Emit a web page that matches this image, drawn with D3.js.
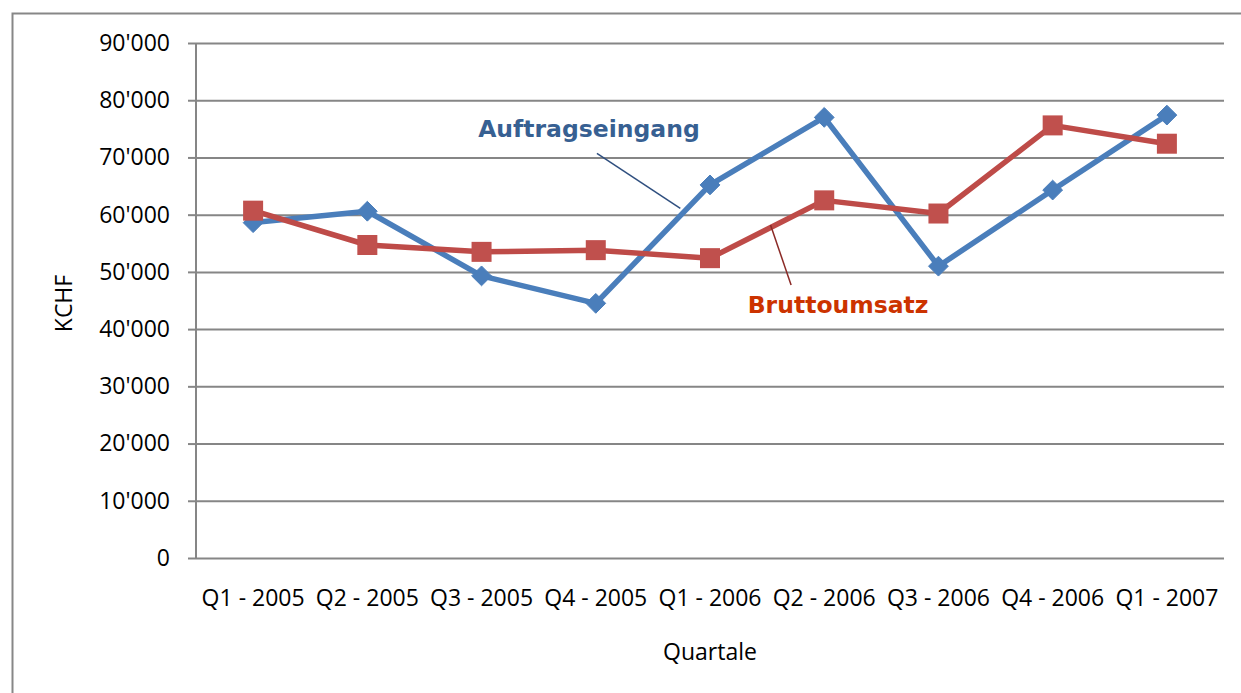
<!DOCTYPE html>
<html>
<head>
<meta charset="utf-8">
<script src="https://cdn.jsdelivr.net/npm/d3@7"></script>
<style>
  body { margin: 0; background: #fff; }
  svg { display: block; }
  .tick text { font-family: "Open Sans", sans-serif; font-size: 23px; fill: #000; }
</style>
</head>
<body>
<div id="chart"></div>
<script>
/* Quarterly figures in KCHF. */
const quarters = ["Q1 - 2005", "Q2 - 2005", "Q3 - 2005", "Q4 - 2005", "Q1 - 2006",
                  "Q2 - 2006", "Q3 - 2006", "Q4 - 2006", "Q1 - 2007"];
const auftragseingang = [58600, 60600, 49300, 44500, 65200, 77000, 51000, 64300, 77400];
const bruttoumsatz = [60700, 54700, 53500, 53800, 52400, 62500, 60200, 75600, 72400];
const yTicks = [0, 10000, 20000, 30000, 40000, 50000, 60000, 70000, 80000, 90000];

/* Data labels with leader lines, in (category index, value) units. */
const labelAuftrag = { text: "Auftragseingang", at: [1.97, 73500], from: [3.01, 70700], to: [3.74, 61100] };
const labelBrutto = { text: "Bruttoumsatz", at: [4.33, 42800], from: [4.53, 58200], to: [4.71, 47700] };

const width = 1241, height = 693;
const margin = { top: 43, right: 17, bottom: 135, left: 196 };

const svg = d3.select("#chart").append("svg")
    .attr("width", width)
    .attr("height", height);

/* Chart-area border, running off the bottom and right of the picture. */
svg.append("rect")
    .attr("x", 12.5).attr("y", 13.5)
    .attr("width", 1250).attr("height", 700)
    .attr("fill", "none")
    .attr("stroke", "#878787")
    .attr("stroke-width", 2);

const xband = d3.scaleBand()
    .domain(quarters)
    .range([margin.left, width - margin.right]);
/* Linear version of the category axis so that annotations can sit between categories. */
const xi = d3.scaleLinear()
    .domain([0, quarters.length - 1])
    .range([xband(quarters[0]) + xband.bandwidth() / 2,
            xband(quarters[quarters.length - 1]) + xband.bandwidth() / 2]);
const y = d3.scaleLinear()
    .domain([0, 90000])
    .range([height - margin.bottom, margin.top]);

const fmt = v => v === 0 ? "0" : d3.format(",")(v).replace(/,/g, "'");

/* Horizontal gridlines plus the small ticks left of the axis. */
const yaxis = d3.axisLeft(y)
    .tickValues(yTicks)
    .tickFormat(fmt)
    .tickSize(8)
    .tickPadding(18);
const gy = svg.append("g")
    .attr("transform", "translate(" + margin.left + ",0)")
    .call(yaxis);
gy.select(".domain").remove();
gy.selectAll(".tick line").attr("stroke", "#868686").attr("stroke-width", 2);
gy.selectAll(".tick").append("line")
    .attr("x1", 0)
    .attr("x2", width - margin.right - margin.left)
    .attr("stroke", "#868686")
    .attr("stroke-width", 2);

/* Vertical axis line. */
svg.append("line")
    .attr("x1", margin.left).attr("x2", margin.left)
    .attr("y1", y(90000)).attr("y2", y(0))
    .attr("stroke", "#868686")
    .attr("stroke-width", 2);

const xaxis = d3.axisBottom(xband).tickSize(0).tickPadding(32);
const gx = svg.append("g")
    .attr("transform", "translate(0," + y(0) + ")")
    .call(xaxis);
gx.select(".domain").remove();

/* Axis titles. */
svg.append("text")
    .attr("transform", "translate(72," + ((y(0) + y(90000)) / 2 + 3) + ") rotate(-90)")
    .attr("text-anchor", "middle")
    .style("font-family", "'Open Sans', sans-serif")
    .style("font-size", "23px")
    .text("KCHF");
svg.append("text")
    .attr("x", (margin.left + width - margin.right) / 2)
    .attr("y", 660)
    .attr("text-anchor", "middle")
    .style("font-family", "'Open Sans', sans-serif")
    .style("font-size", "23px")
    .text("Quartale");

/* Series. */
const line = d3.line()
    .x((d, i) => xi(i))
    .y(d => y(d));

svg.append("path")
    .attr("d", line(auftragseingang))
    .attr("fill", "none")
    .attr("stroke", "#4A7EBB")
    .attr("stroke-width", 5.5)
    .attr("stroke-linejoin", "round");

svg.append("path")
    .attr("d", line(bruttoumsatz))
    .attr("fill", "none")
    .attr("stroke", "#BE4B48")
    .attr("stroke-width", 5.5)
    .attr("stroke-linejoin", "round");

const diamond = d3.symbol().type(d3.symbolDiamond2).size(250);
svg.selectAll("path.diamond")
    .data(auftragseingang)
    .enter()
    .append("path")
        .attr("class", "diamond")
        .attr("d", diamond)
        .attr("transform", (d, i) => "translate(" + xi(i) + "," + y(d) + ")")
        .attr("fill", "#4A7EBB")
        .attr("stroke", "#4A7EBB")
        .attr("stroke-width", 1);

svg.selectAll("rect.square")
    .data(bruttoumsatz)
    .enter()
    .append("rect")
        .attr("class", "square")
        .attr("x", (d, i) => xi(i) - 10)
        .attr("y", d => y(d) - 10)
        .attr("width", 20)
        .attr("height", 20)
        .attr("fill", "#C0504D");

/* Data labels with leader lines. */
function drawLabel(lab, textColor, lineColor) {
    svg.append("line")
        .attr("x1", xi(lab.from[0])).attr("y1", y(lab.from[1]))
        .attr("x2", xi(lab.to[0])).attr("y2", y(lab.to[1]))
        .attr("stroke", lineColor)
        .attr("stroke-width", 1.5);
    svg.append("text")
        .attr("x", xi(lab.at[0]))
        .attr("y", y(lab.at[1]))
        .style("font-family", "'DejaVu Sans', Verdana, sans-serif")
        .style("font-weight", "bold")
        .style("font-size", "23.5px")
        .attr("fill", textColor)
        .text(lab.text);
}
drawLabel(labelAuftrag, "#376092", "#2F4F7F");
drawLabel(labelBrutto, "#CC3300", "#8B2A26");
</script>
</body>
</html>
